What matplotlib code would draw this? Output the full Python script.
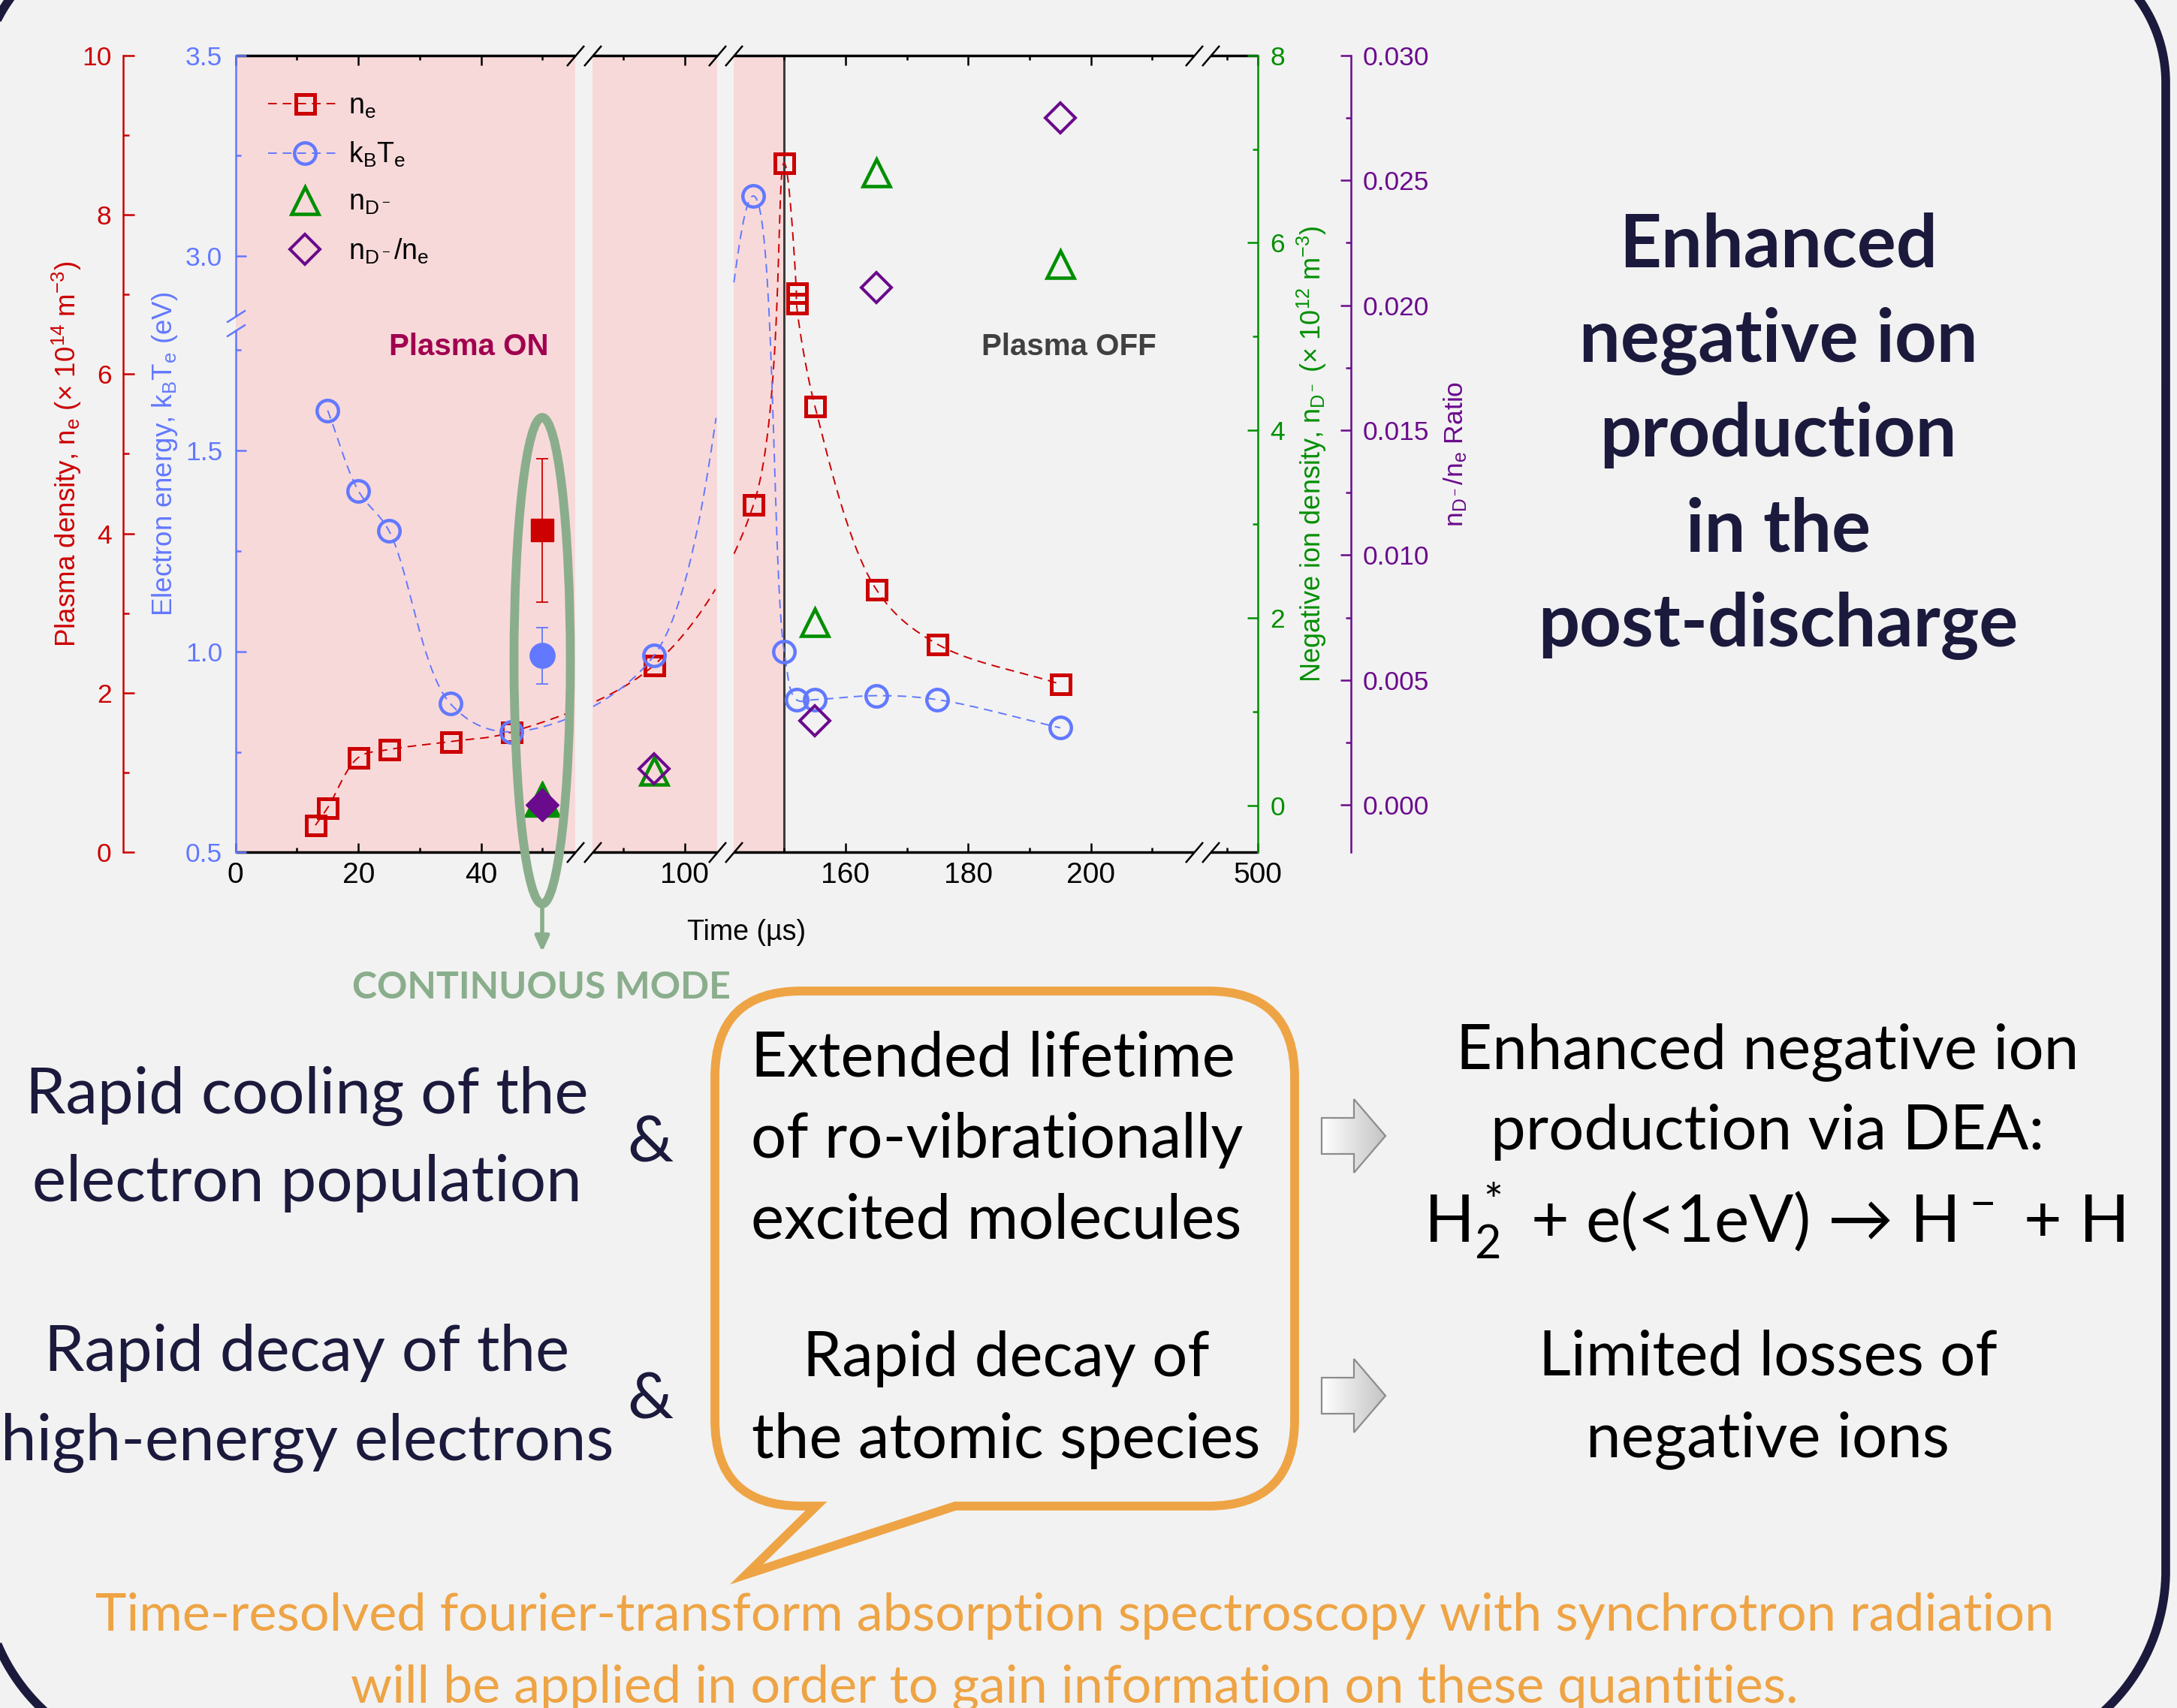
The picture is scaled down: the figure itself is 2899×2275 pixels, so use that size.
import numpy as np
import matplotlib
matplotlib.use('Agg')
import matplotlib.pyplot as plt
from matplotlib import font_manager
from matplotlib.lines import Line2D
from matplotlib.patches import Ellipse, PathPatch, Polygon
from matplotlib.path import Path
from matplotlib.colors import LinearSegmentedColormap

# ---------------- data ----------------
t_ne = [13, 15, 20, 25, 35, 45, 95, 145, 150, 152, 152, 155, 165, 175, 195]
ne = [0.34, 0.56, 1.19, 1.29, 1.39, 1.51, 2.35, 4.36, 8.65, 7.02, 6.89, 5.60, 3.30, 2.61, 2.11]

t_te = [15, 20, 25, 35, 45, 95, 145, 150, 152, 155, 165, 175, 195]
te = [1.60, 1.40, 1.30, 0.87, 0.80, 0.99, 3.15, 1.00, 0.88, 0.88, 0.89, 0.88, 0.81]

t_nd = [95, 155, 165, 195]
nd = [0.37, 1.95, 6.75, 5.77]

t_ratio = [95, 155, 165, 195]
ratio = [0.00146, 0.00337, 0.0207, 0.0275]

# continuous mode (filled symbols)
t_cont = 50
ne_cont, ne_cont_err = 4.04, 0.90
te_cont, te_cont_err = 0.99, 0.07
nd_cont = 0.07
ratio_cont = 0.0

plasma_off = 150

x_major = [0, 20, 40, 100, 160, 180, 200, 500]
x_minor = [10, 30, 50, 90, 150, 170, 190, 210, 495]

# broken time axis: visible pieces and their positions
T_BP = [0, 55.3, 85, 105.3, 141.8, 216.8, 492.3, 500]
U_BP = [0, 55.3, 58.2, 78.5, 81.2, 156.2, 158.9, 166.6]
SEGMENTS = [(0, 55.3), (85, 105.3), (141.8, 216.8), (492.3, 500)]
GAPS = [(55.3, 85), (105.3, 141.8), (216.8, 492.3)]

# broken electron-energy axis
V_BP = [0.5, 1.8, 2.85, 3.5]
W_BP = [0, 1.3, 1.334, 1.984]


def piecewise(a, src, dst):
    a = np.asarray(a, float)
    out = np.interp(a, src, dst)
    out = np.where(a < src[0], a - src[0] + dst[0], out)
    out = np.where(a > src[-1], a - src[-1] + dst[-1], out)
    return out


def x_fwd(t):
    return piecewise(t, T_BP, U_BP)


def x_inv(u):
    return piecewise(u, U_BP, T_BP)


def b_fwd(v):
    return piecewise(v, V_BP, W_BP)


def b_inv(w):
    return piecewise(w, W_BP, V_BP)


# ---------------- style ----------------
names = {f.name for f in font_manager.fontManager.ttflist}
NARROW = 'Liberation Sans Narrow' if 'Liberation Sans Narrow' in names else 'Liberation Sans'
HUMAN = ['Lato', 'DejaVu Sans']

plt.rcParams['font.family'] = [NARROW, 'DejaVu Sans']

RED = '#cc0000'
BLUE = '#6279ff'
GREEN = '#008f00'
PURPLE = '#6a0a8c'
BG = '#f2f2f2'
PINK = '#f8d9da'
NAVY = '#1b1a3d'
SAGE = '#8aae8c'
ORANGE = '#eea445'
DASH = (0, (6, 4))
TICK = 25.5
LAB = 26.5

W, H = 2899, 2275
fig = plt.figure(figsize=(W / 100, H / 100), dpi=100, facecolor=BG)

ax = fig.add_axes([0.10824, 0.50097, 0.46954, 0.46668])
ax.set_facecolor(BG)
ax.set_xscale('function', functions=(x_fwd, x_inv))
ax.set_xlim(0, 500)
ax.set_ylim(0, 10)

ax_b = ax.twinx()
ax_b.set_yscale('function', functions=(b_fwd, b_inv))
ax_b.set_ylim(0.5, 3.5)
ax_g = ax.twinx()
ax_g.set_ylim(-0.5, 8)
ax_p = ax.twinx()
ax_p.set_ylim(-0.00189, 0.030)

for a in (ax, ax_b, ax_g, ax_p):
    for s in a.spines.values():
        s.set_visible(False)

# background regions
ax.axvspan(SEGMENTS[0][0], SEGMENTS[0][1], color=PINK, lw=0, zorder=0)
ax.axvspan(SEGMENTS[1][0], SEGMENTS[1][1], color=PINK, lw=0, zorder=0)
ax.axvspan(SEGMENTS[2][0], plasma_off, color=PINK, lw=0, zorder=0)
ax.axvline(plasma_off, color='#3c3c3c', lw=2.2, zorder=1)

# top / bottom spines drawn per segment, with break marks
xt = ax.get_xaxis_transform()
slash_x = [(-0.85, -1), (0.85, 1)]
for t0, t1 in SEGMENTS:
    for yy in (0, 1):
        ax.plot([t0, t1], [yy, yy], transform=xt, color='k', lw=2.5,
                solid_capstyle='butt', clip_on=False, zorder=5)
for g0, g1 in GAPS:
    ax.plot([g0, g1, g0, g1], [0, 0, 1, 1], transform=xt, ls='none',
            marker=slash_x, ms=19.5, mew=1.8, color='k', clip_on=False, zorder=5)

# red axis (host)
ax.spines['left'].set_visible(True)
ax.spines['left'].set_position(('axes', -0.1097))
ax.spines['left'].set_color(RED)
ax.spines['left'].set_linewidth(1.8)
ax.set_yticks([0, 2, 4, 6, 8, 10])
ax.set_yticks([1, 3, 5, 7, 9], minor=True)
ax.tick_params(axis='y', which='both', colors=RED, direction='in', labelsize=TICK, pad=11.5, width=1.8)
ax.tick_params(axis='y', which='major', length=11)
ax.tick_params(axis='y', which='minor', length=5.5)
ax.set_ylabel('Plasma density, $\\mathregular{n_e}$ (× 10$\\mathregular{^{14}}$ m$\\mathregular{^{-3}}$)',
              color=RED, fontsize=LAB, va='center')
ax.yaxis.set_label_coords(-0.1651, 0.5)

ax.set_xticks(x_major)
ax.set_xticklabels([str(v) for v in x_major])
ax.set_xticks(x_minor, minor=True)
ax.tick_params(axis='x', which='both', direction='in', top=True, bottom=True,
               labelsize=28, pad=9, width=1.8, colors='k')
ax.tick_params(axis='x', which='major', length=9)
ax.tick_params(axis='x', which='minor', length=4.5)
ax.set_xlabel('Time (µs)', fontsize=27, va='center')
ax.xaxis.set_label_coords(0.5, -0.1005)

# blue axis (broken)
ax_b.yaxis.tick_left()
ax_b.yaxis.set_label_position('left')
ax_b.set_yticks([0.5, 1.0, 1.5, 3.0, 3.5])
ax_b.set_yticklabels(['0.5', '1.0', '1.5', '3.0', '3.5'])
ax_b.set_yticks([0.75, 1.25, 1.75, 3.25], minor=True)
ax_b.tick_params(axis='y', which='both', colors=BLUE, direction='in', labelsize=TICK, pad=12.8, width=1.8)
ax_b.tick_params(axis='y', which='major', length=10)
ax_b.tick_params(axis='y', which='minor', length=5)
yb = ax_b.get_yaxis_transform()
ax_b.plot([0, 0], [V_BP[0], V_BP[1]], transform=yb, color=BLUE, lw=1.8, clip_on=False)
ax_b.plot([0, 0], [V_BP[2], V_BP[3]], transform=yb, color=BLUE, lw=1.8, clip_on=False)
ax_b.plot([0, 0], [V_BP[1], V_BP[2]], transform=yb, ls='none', marker=[(-1, -0.64), (1, 0.64)],
          ms=18, mew=1.8, color=BLUE, clip_on=False)
ax_b.set_ylabel('Electron energy, $\\mathregular{k_BT_e}$ (eV)', color=BLUE, fontsize=LAB, va='center')
ax_b.yaxis.set_label_coords(-0.0696, 0.5)

# green axis
ax_g.spines['right'].set_visible(True)
ax_g.spines['right'].set_color(GREEN)
ax_g.spines['right'].set_linewidth(1.8)
ax_g.set_yticks([0, 2, 4, 6, 8])
ax_g.set_yticks([1, 3, 5, 7], minor=True)
ax_g.tick_params(axis='y', which='both', colors=GREEN, direction='in', labelsize=TICK, pad=12, width=1.8)
ax_g.tick_params(axis='y', which='major', length=10)
ax_g.tick_params(axis='y', which='minor', length=5)
ax_g.set_ylabel('Negative ion density, $\\mathregular{n_{D^-}}$ (× 10$\\mathregular{^{12}}$ m$\\mathregular{^{-3}}$)',
                color=GREEN, fontsize=LAB - 0.5, va='center')
ax_g.yaxis.set_label_coords(1.0529, 0.5)

# purple axis
ax_p.spines['right'].set_visible(True)
ax_p.spines['right'].set_position(('axes', 1.0910))
ax_p.spines['right'].set_color(PURPLE)
ax_p.spines['right'].set_linewidth(1.8)
ax_p.set_yticks(np.arange(0, 0.0301, 0.005))
ax_p.set_yticklabels(['%.3f' % v for v in np.arange(0, 0.0301, 0.005)])
ax_p.set_yticks(np.arange(0.0025, 0.030, 0.005), minor=True)
ax_p.tick_params(axis='y', which='both', colors=PURPLE, direction='in', labelsize=TICK, pad=11.5, width=1.8)
ax_p.tick_params(axis='y', which='major', length=10)
ax_p.tick_params(axis='y', which='minor', length=5)
ax_p.set_ylabel('$\\mathregular{n_{D^-}/n_e}$ Ratio', color=PURPLE, fontsize=LAB - 1, va='center')
ax_p.yaxis.set_label_coords(1.1932, 0.5)


def smooth_line(axis, ts, vs, n=40):
    # spline connection drawn in screen space, like the original software
    pts = axis.transData.transform(np.column_stack([ts, vs]))
    keep = [0]
    for i in range(1, len(pts)):
        if np.hypot(*(pts[i] - pts[keep[-1]])) > 3:
            keep.append(i)
    P = pts[keep]
    P = np.vstack([2 * P[0] - P[1], P, 2 * P[-1] - P[-2]])
    parts = []
    for i in range(1, len(P) - 2):
        p0, p1, p2, p3 = P[i - 1], P[i], P[i + 1], P[i + 2]
        k0 = 0.0
        k1 = k0 + np.linalg.norm(p1 - p0) ** 0.5
        k2 = k1 + np.linalg.norm(p2 - p1) ** 0.5
        k3 = k2 + np.linalg.norm(p3 - p2) ** 0.5
        s = np.linspace(k1, k2, n)[:, None]
        a1 = (k1 - s) / (k1 - k0) * p0 + (s - k0) / (k1 - k0) * p1
        a2 = (k2 - s) / (k2 - k1) * p1 + (s - k1) / (k2 - k1) * p2
        a3 = (k3 - s) / (k3 - k2) * p2 + (s - k2) / (k3 - k2) * p3
        b1 = (k2 - s) / (k2 - k0) * a1 + (s - k0) / (k2 - k0) * a2
        b2 = (k3 - s) / (k3 - k1) * a2 + (s - k1) / (k3 - k1) * a3
        parts.append((k2 - s) / (k2 - k1) * b1 + (s - k1) / (k2 - k1) * b2)
    data = axis.transData.inverted().transform(np.vstack(parts))
    x, y = data[:, 0], data[:, 1]
    gap = np.zeros(len(x), bool)
    for g0, g1 in GAPS:
        gap |= (x > g0) & (x < g1)
    return x, np.where(gap, np.nan, y)


# series
cx, cy = smooth_line(ax, t_ne, ne)
ax.plot(cx, cy, color=RED, lw=1.4, ls=DASH, zorder=2)
ax.plot(t_ne, ne, ls='none', marker='s', ms=18, mfc='none', mec=RED, mew=3.6, zorder=3)
ax.errorbar(t_cont, ne_cont, yerr=ne_cont_err, fmt='s', ms=22, color=RED, mfc=RED, mec=RED,
            elinewidth=1.3, capsize=5.5, capthick=1.3, zorder=3)
ax.text(38, 6.34, 'Plasma ON', ha='center', va='center', fontsize=29, fontweight='bold',
        color='#a0004f', zorder=4)
ax.text(196.4, 6.34, 'Plasma OFF', ha='center', va='center', fontsize=29, fontweight='bold',
        color='#404040', zorder=4)

cx, cy = smooth_line(ax_b, t_te, te)
ax_b.plot(cx, cy, color=BLUE, lw=1.4, ls=DASH, zorder=2)
ax_b.plot(t_te, te, ls='none', marker='o', ms=20.5, mfc='none', mec=BLUE, mew=3.2, zorder=3)
ax_b.errorbar(t_cont, te_cont, yerr=te_cont_err, fmt='o', ms=24, color=BLUE, mfc=BLUE, mec=BLUE,
              elinewidth=1.3, capsize=5.5, capthick=1.3, zorder=3)

ax_g.plot(t_nd, nd, ls='none', marker='^', ms=26, mfc='none', mec=GREEN, mew=3.3)
ax_g.plot(t_cont, nd_cont, ls='none', marker='^', ms=35, color=GREEN)

ax_p.plot(t_ratio, ratio, ls='none', marker='D', ms=20.5, mfc='none', mec=PURPLE, mew=2.9)
ax_p.plot(t_cont, ratio_cont, ls='none', marker='D', ms=22, color=PURPLE)

handles = [
    Line2D([], [], color=RED, lw=1.4, ls=DASH, marker='s', ms=18, mfc='none', mew=3.6),
    Line2D([], [], color=BLUE, lw=1.4, ls=DASH, marker='o', ms=20.5, mfc='none', mew=3.2),
    Line2D([], [], color=GREEN, ls='none', marker='^', ms=26, mfc='none', mew=3.3),
    Line2D([], [], color=PURPLE, ls='none', marker='D', ms=20.5, mfc='none', mew=2.9),
]
labels = ['$\\mathregular{n_e}$', '$\\mathregular{k_BT_e}$', '$\\mathregular{n_{D^-}}$',
          '$\\mathregular{n_{D^-}/n_e}$']
ax_p.legend(handles, labels, loc='upper left', bbox_to_anchor=(0.0317, 0.953), frameon=False,
            fontsize=27, handlelength=2.6, handletextpad=0.25, labelspacing=0.72,
            borderpad=0, borderaxespad=0)

# ---------------- slide overlay (pixel coordinates, y down) ----------------
ov = fig.add_axes([0, 0, 1, 1], zorder=10)
ov.axis('off')
ov.patch.set_visible(False)


def frame_outline(x0, y0, x1, y1, r_top, r_bot, n=90):
    # rounded slide frame as a plain polyline (y grows downwards)
    corners = [((x1 - r_top, y0 + r_top), r_top, -90, 0),
               ((x1 - r_bot, y1 - r_bot), r_bot, 0, 90),
               ((x0 + r_bot, y1 - r_bot), r_bot, 90, 180),
               ((x0 + r_top, y0 + r_top), r_top, 180, 270)]
    xs, ys = [], []
    for (cxx, cyy), rr, a0, a1 in corners:
        ang = np.radians(np.linspace(a0, a1, n))
        xs.extend(cxx + rr * np.cos(ang))
        ys.extend(cyy + rr * np.sin(ang))
    xs.append(xs[0])
    ys.append(ys[0])
    return xs, ys


fx, fy = frame_outline(-23, -80, 2884, 2346, 190, 254)
ov.plot(fx, fy, color=NAVY, lw=8.4, clip_on=False, solid_joinstyle='round')

ov.add_patch(Ellipse((722, 880), 75, 648, fill=False, ec=SAGE, lw=8.5))
ov.annotate('', xy=(722, 1268), xytext=(722, 1208),
            arrowprops=dict(arrowstyle='-|>,head_length=1.2,head_width=0.55', lw=4, color=SAGE,
                            shrinkA=0, shrinkB=0))
ov.text(721, 1330, 'CONTINUOUS MODE', ha='center', va='baseline', fontsize=36,
        fontweight='bold', color=SAGE, family=HUMAN)

title_lines = ['Enhanced', 'negative ion', 'production', 'in the', 'post-discharge']
for i, line in enumerate(title_lines):
    ov.text(2368, 356 + 126.2 * i, line, ha='center', va='baseline', fontsize=70,
            fontweight='bold', color=NAVY, family=HUMAN)

left_lines = [('Rapid cooling of the', 1482), ('electron population', 1600),
              ('Rapid decay of the', 1826), ('high-energy electrons', 1944)]
for s, y in left_lines:
    ov.text(409, y, s, ha='center', va='baseline', fontsize=61.5, color=NAVY, family=HUMAN)
for y in (1547, 1890):
    ov.text(866, y, '&', ha='center', va='baseline', fontsize=62, color=NAVY, family=HUMAN)

# speech bubble
L, R, T, B, r = 952, 1724, 1320, 2006, 115
verts = [(1272, B), (R - r, B), (R, B), (R, B - r), (R, T + r), (R, T), (R - r, T),
         (L + r, T), (L, T), (L, T + r), (L, B - r), (L, B), (L + r, B), (1087, B),
         (994, 2097), (1272, B), (1272, B)]
codes = [Path.MOVETO, Path.LINETO, Path.CURVE3, Path.CURVE3, Path.LINETO, Path.CURVE3, Path.CURVE3,
         Path.LINETO, Path.CURVE3, Path.CURVE3, Path.LINETO, Path.CURVE3, Path.CURVE3, Path.LINETO,
         Path.LINETO, Path.LINETO, Path.CLOSEPOLY]
ov.add_patch(PathPatch(Path(verts, codes), fill=False, ec=ORANGE, lw=8.5, joinstyle='miter'))

for s, y in [('Extended lifetime', 1433), ('of ro-vibrationally', 1542), ('excited molecules', 1650)]:
    ov.text(1000, y, s, ha='left', va='baseline', fontsize=60, color='k', family=HUMAN)
for s, y in [('Rapid decay of', 1833), ('the atomic species', 1942)]:
    ov.text(1340, y, s, ha='center', va='baseline', fontsize=60, color='k', family=HUMAN)

# hollow block arrows with a soft gradient
grad = LinearSegmentedColormap.from_list('g', ['#ffffff', '#c4c4c4'])
for c in (1513, 1859):
    pts = [(1760, c - 24), (1803, c - 24), (1803, c - 49), (1845, c), (1803, c + 49),
           (1803, c + 24), (1760, c + 24)]
    poly = Polygon(pts, closed=True, fc='none', ec='#8c8c8c', lw=1.6, zorder=3)
    ov.add_patch(poly)
    im = ov.imshow(np.linspace(0, 1, 64)[None, :], cmap=grad, extent=(1760, 1845, c + 50, c - 50),
                   aspect='auto', zorder=2)
    im.set_clip_path(poly)

right_lines = [('Enhanced negative ion', 1423), ('production via DEA:', 1531),
               ('Limited losses of', 1832), ('negative ions', 1940)]
for s, y in right_lines:
    ov.text(2354, y, s, ha='center', va='baseline', fontsize=60, color='k', family=HUMAN)
ov.text(2362, 1655, '$\\mathregular{H_2^*}$ + e(<1eV) → $\\mathregular{H^-}$ + H', ha='center',
        va='baseline', fontsize=63, color='k', family=HUMAN)

ov.text(1431, 2172, 'Time-resolved fourier-transform absorption spectroscopy with synchrotron radiation',
        ha='center', va='baseline', fontsize=50.5, color=ORANGE, family=HUMAN)
ov.text(1431, 2268, 'will be applied in order to gain information on these quantities.',
        ha='center', va='baseline', fontsize=50.5, color=ORANGE, family=HUMAN)

ov.set_xlim(0, W)
ov.set_ylim(H, 0)

fig.savefig('out.png', dpi=100, facecolor=BG)
